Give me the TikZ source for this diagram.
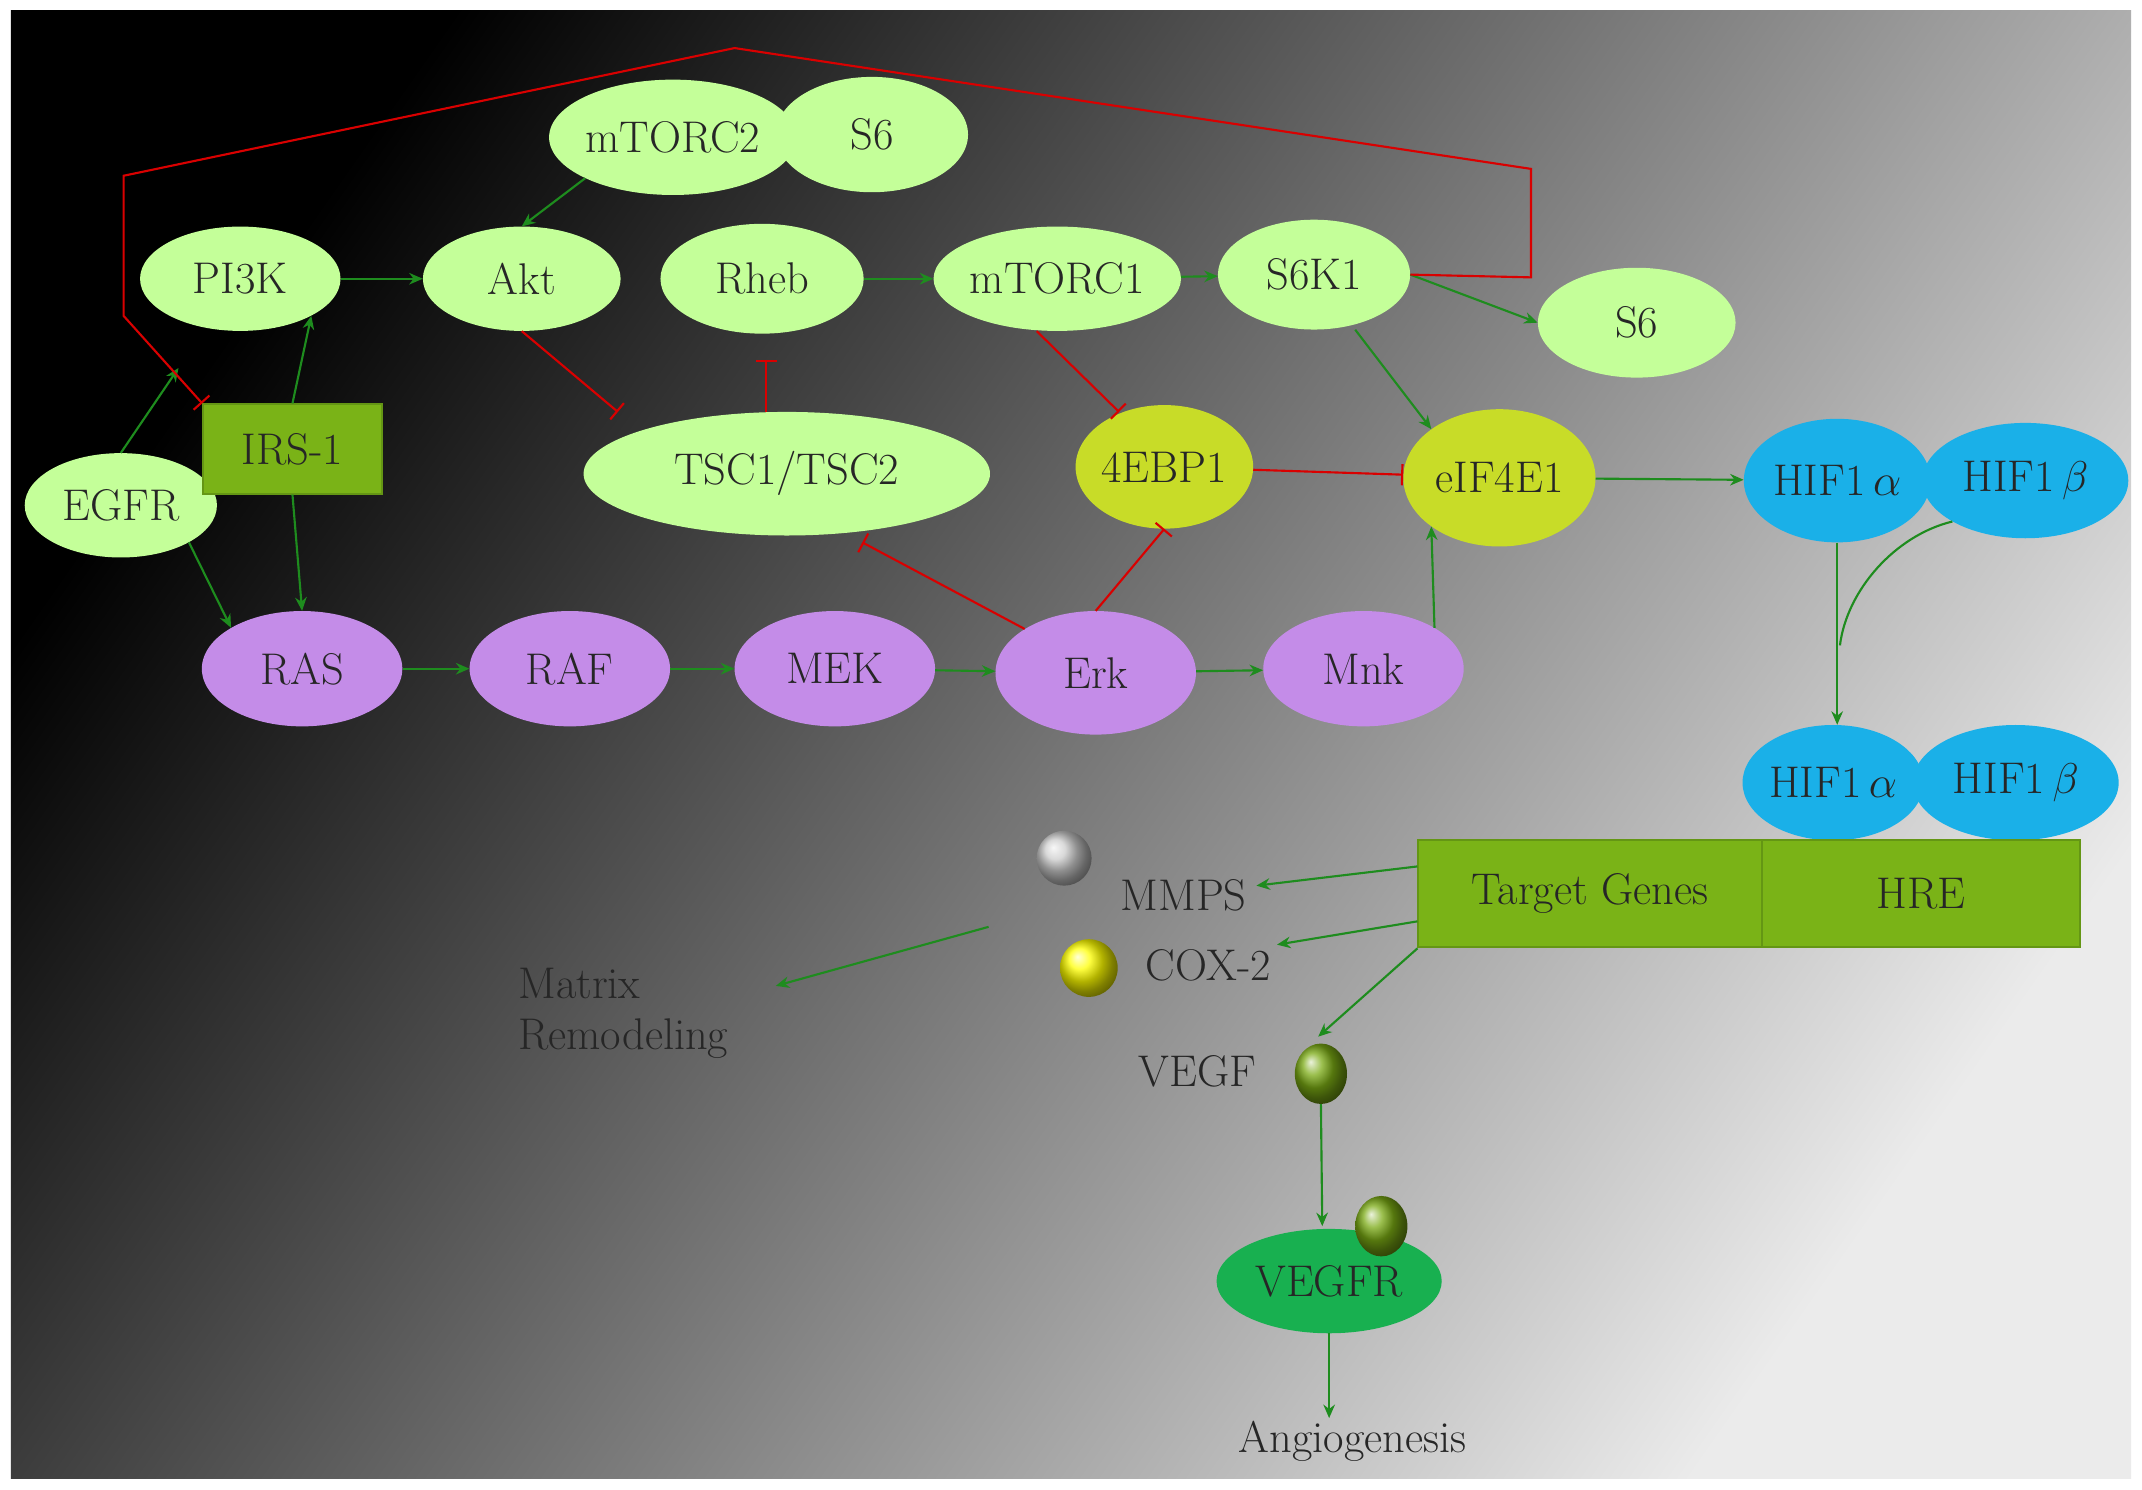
\documentclass[tikz,border=0pt]{standalone}
\usetikzlibrary{arrows.meta,shapes.geometric}
\newcommand{\myal}{\resizebox{!}{20pt}{$\alpha$}}
\newcommand{\mybe}{\resizebox{!}{31pt}{$\beta$}}
\begin{document}
\begin{tikzpicture}[x=0.05cm,y=-0.05cm,
 every node/.style={font=\fontsize{46}{52}\selectfont, text=black!85},
 ov/.style={ellipse, minimum width=#1*0.05cm, inner sep=0pt},
 lg/.style={ov=#1, fill=lime!25!yellow!45!green!40!white, draw=none},
 yg/.style={ov=#1, fill={rgb,255:red,200;green,220;blue,40}},
 pu/.style={ov=#1, fill={rgb,255:red,196;green,140;blue,232}},
 cy/.style={ov=#1, fill={rgb,255:red,26;green,176;blue,232}},
 mh/.style={minimum height=#1*0.05cm},
 bx/.style={rectangle, fill={rgb,255:red,122;green,179;blue,23}, draw={rgb,255:red,100;green,150;blue,20}, line width=2pt, inner sep=0pt},
 ga/.style={draw={rgb,255:red,30;green,140;blue,30}, line width=2.2pt, -{Stealth[length=14pt,width=12pt]}},
 rb/.style={draw=red!85!black, line width=2.2pt, -{Bar[width=22pt]}},
 ball/.style={circle, inner sep=0pt, minimum size=#1*0.05cm}]
\useasboundingbox (0,0) rectangle (1560,1085);
\fill[white] (0,0) rectangle (1560,1085);
\shade[left color=black, right color=white!92!black, shading angle=55] (8,8) rectangle (1552,1077);
% green ellipses
\node[lg=160, mh=84] (mTORC2) at (490,100) {mTORC2};
\node[lg=140, mh=84] (S6a) at (635,98) {S6};
\node[lg=146, mh=76] (PI3K) at (175,203) {PI3K};
\node[lg=144, mh=76] (Akt) at (380,203) {Akt};
\node[lg=148, mh=80] (Rheb) at (555,203) {Rheb};
\node[lg=150, mh=76] (mTORC1) at (770,203) {mTORC1};
\node[lg=140, mh=80] (S6K1) at (957,200) {S6K1};
\node[lg=144, mh=80] (S6b) at (1192,235) {S6};
\node[lg=140, mh=76] (EGFR) at (88,368) {EGFR};
\node[bx, minimum width=130*0.05cm, mh=65] (IRS) at (213,327) {IRS-1};
\node[lg=296, mh=90] (TSC) at (573,345) {TSC1/TSC2};
\node[yg=124, mh=90] (EBP) at (848,340) {4EBP1};
\node[yg=140, mh=100] (eIF) at (1092,348) {eIF4E1};
\node[cy=136, mh=90] (Ha) at (1338,350) {HIF1\,\myal};
\node[cy=150, mh=84] (Hb) at (1475,350) {HIF1\,\mybe};
% purple
\node[pu=146, mh=84] (RAS) at (220,487) {RAS};
\node[pu=146, mh=84] (RAF) at (415,487) {RAF};
\node[pu=146, mh=84] (MEK) at (608,487) {MEK};
\node[pu=146, mh=90] (Erk) at (798,490) {Erk};
\node[pu=146, mh=84] (Mnk) at (993,487) {Mnk};
\node[cy=124, mh=84] (Ha2) at (1335,570) {HIF1\,\myal};
\node[cy=150, mh=84] (Hb2) at (1468,570) {HIF1\,\mybe};
\node[bx, minimum width=250*0.05cm, mh=78] (TG) at (1158,651) {Target Genes};
\node[bx, minimum width=232*0.05cm, mh=78] (HRE) at (1399,651) {HRE};
% balls and text
\node[ball=40, ball color=gray!40] (mmb) at (775,625) {};
\node (MMPS) at (862,652) {MMPS};
\node[ball=42, ball color=yellow] (cxb) at (793,705) {};
\node (COX) at (880,703) {COX-2};
\node[align=left, anchor=west] (MR) at (375,738) {Matrix\\Remodeling};
\node (VEGF) at (872,780) {VEGF};
\node[ellipse, minimum width=38*0.05cm, minimum height=44*0.05cm, inner sep=0pt, ball color={rgb,255:red,122;green,170;blue,20}] (vb) at (962,782) {};
\node[ov=164, mh=76, fill={rgb,255:red,24;green,176;blue,80}] (VEGFR) at (968,933) {VEGFR};
\node[ellipse, minimum width=38*0.05cm, minimum height=44*0.05cm, inner sep=0pt, ball color={rgb,255:red,122;green,170;blue,20}] (vb2) at (1006,893) {};
\node (Ang) at (985,1050) {Angiogenesis};
\coordinate (mmx) at (720,675);
% green arrows
\draw[ga] (EGFR.north) -- (130,268);
\draw[ga] (IRS.north) -- (PI3K.south east);
\draw[ga] (mTORC2.south west) -- (Akt.north);
\draw[ga] (PI3K) -- (Akt);
\draw[ga] (Rheb) -- (mTORC1);
\draw[ga] (mTORC1) -- (S6K1);
\draw[ga] (S6K1.east) -- (S6b.west);
\draw[ga] (S6K1.south) ++(30,0) -- (eIF.north west);
\draw[ga] (EGFR.south east) -- (RAS.north west);
\draw[ga] (IRS.south) -- (RAS.north);
\draw[ga] (RAS) -- (RAF);
\draw[ga] (RAF) -- (MEK);
\draw[ga] (MEK) -- (Erk);
\draw[ga] (Erk) -- (Mnk);
\draw[ga] (Mnk.north east) -- (eIF.south west);
\draw[ga] (eIF) -- (Ha);
\draw[ga] (Ha.south) -- (Ha.south |- Ha2.north);
\draw[draw={rgb,255:red,30;green,140;blue,30}, line width=2.2pt] (Hb.south west) .. controls (1380,390) and (1345,430) .. (1340,470);
\draw[ga] (TG.west) ++(0,-20) -- (915,645);
\draw[ga] (TG.west) ++(0,20) -- (930,688);
\draw[ga] (TG.south west) -- (960,755);
\draw[ga] (mmx) -- (565,718);
\draw[ga] (vb.south) -- (963,893);
\draw[ga] (VEGFR.south) -- (VEGFR.south |- Ang.north);
% red inhibitors
\draw[rb] (S6K1.east) -- (1115,202) -- (1115,123) -- (535,35) -- (90,128) -- (90,230) -- (IRS.north west);
\draw[rb] (Akt.south) -- (450,300);
\draw[rb] (TSC.north) ++(-15,0) -- (558,262);
\draw[rb] (mTORC1.south) ++(-15,0) -- (815,300);
\draw[rb] (Erk.north west) -- (628,395);
\draw[rb] (Erk.north) -- (EBP.south);
\draw[rb] (EBP) -- (eIF);
\end{tikzpicture}
\end{document}
